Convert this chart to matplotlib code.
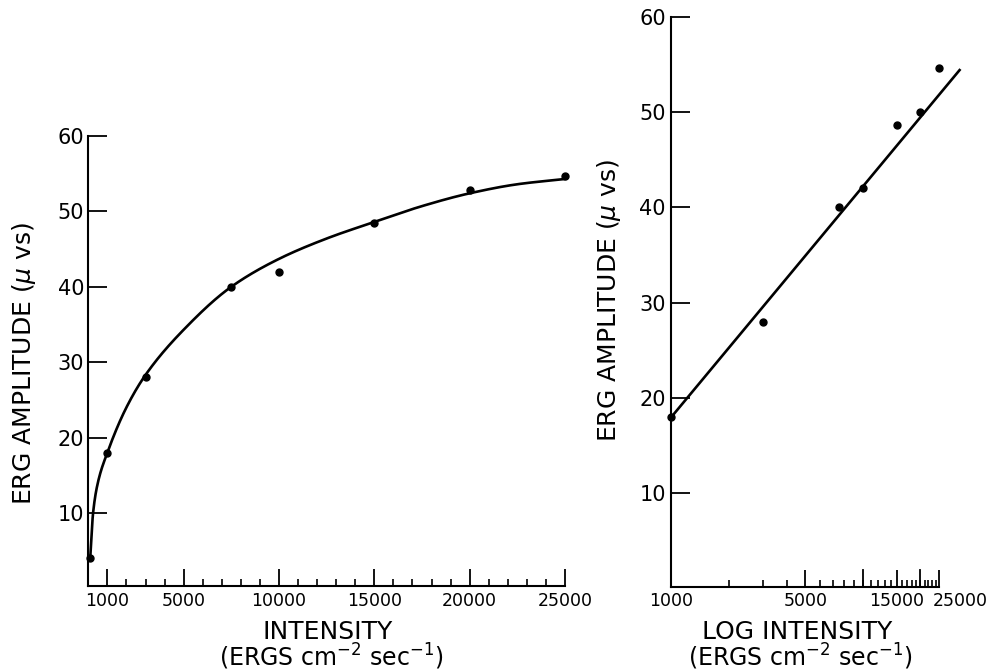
import numpy as np
import matplotlib
matplotlib.use("Agg")
import matplotlib.pyplot as plt
from matplotlib.transforms import ScaledTranslation

# ERG amplitude against stimulus intensity
intensity = [100, 1000, 3000, 7500, 10000, 15000, 20000, 25000]
amplitude = [4, 18, 28, 40, 42, 48.5, 52.8, 54.7]

# hand-drawn curve through the linear plot (knots)
curve_x = [100, 250, 500, 1000, 2000, 3000, 5000, 7500, 10000, 12500, 15000, 17500, 20000, 22500, 25000]
curve_y = [4, 10, 14, 18, 24, 28.3, 34.3, 40, 43.7, 46.4, 48.6, 50.7, 52.4, 53.6, 54.3]

# semi-log plot points and straight fit
log_x = [1000, 3000, 7500, 10000, 15000, 20000, 25000]
log_y = [18, 28, 40, 42, 48.6, 50, 54.6]
line_x = [1000, 32000]
line_y = [18, 54.4]

lin_ticks = [1000, 5000, 10000, 15000, 20000, 25000]
lin_labels = ["1000", "5000", "10000", "15000", "20000", "25000"]
log_major = [5000, 10000, 15000, 20000, 25000]
log_labels = {1000: "1000", 5000: "5000", 15000: "15000", 25000: "25000"}
y_ticks = [10, 20, 30, 40, 50, 60]

ylab = r"ERG AMPLITUDE ($\mu$ vs)"
units = r"(ERGS cm$^{-2}$ sec$^{-1}$)"


def pchip(xk, yk, xs):
    xk = np.asarray(xk, float)
    yk = np.asarray(yk, float)
    h = np.diff(xk)
    d = np.diff(yk) / h
    m = np.zeros_like(yk)
    m[0], m[-1] = d[0], d[-1]
    for i in range(1, len(xk) - 1):
        if d[i - 1] * d[i] > 0:
            w1 = 2 * h[i] + h[i - 1]
            w2 = h[i] + 2 * h[i - 1]
            m[i] = (w1 + w2) / (w1 / d[i - 1] + w2 / d[i])
    idx = np.clip(np.searchsorted(xk, xs) - 1, 0, len(h) - 1)
    t = (xs - xk[idx]) / h[idx]
    h00 = 2 * t**3 - 3 * t**2 + 1
    h10 = t**3 - 2 * t**2 + t
    h01 = -2 * t**3 + 3 * t**2
    h11 = t**3 - t**2
    return h00 * yk[idx] + h10 * h[idx] * m[idx] + h01 * yk[idx + 1] + h11 * h[idx] * m[idx + 1]


plt.rcParams["font.family"] = ["DejaVu Sans"]
plt.rcParams["mathtext.fontset"] = "dejavusans"

fig = plt.figure(figsize=(9.89, 6.71), dpi=100)
ax1 = fig.add_axes([0.0893, 0.1267, 0.4820, 0.6706])
ax2 = fig.add_axes([0.6788, 0.1256, 0.2707, 0.8495])

for ax in (ax1, ax2):
    for s in ("top", "right"):
        ax.spines[s].set_visible(False)
    for s in ("left", "bottom"):
        ax.spines[s].set_linewidth(1.5)
    ax.set_yticks(y_ticks)
    ax.tick_params(axis="y", direction="in", length=13.5, width=1.3, labelsize=15, pad=3)
    ax.tick_params(axis="x", which="major", direction="in", length=12, width=1.3, labelsize=12.5, pad=4)
    ax.tick_params(axis="x", which="minor", direction="in", length=5, width=1.2)

# left: linear intensity
xs = np.linspace(curve_x[0], curve_x[-1], 800)
ax1.plot(xs, pchip(curve_x, curve_y, xs), color="black", lw=1.9, clip_on=False)
ax1.plot(intensity, amplitude, "o", color="black", ms=5, clip_on=False)
ax1.set_xlim(0, 25000)
ax1.set_ylim(0.3, 60)
ax1.set_xticks(lin_ticks)
ax1.set_xticklabels(lin_labels)
ax1.set_xticks(np.arange(2000, 25000, 1000), minor=True)

# right: log intensity
ax2.set_xscale("log")
ax2.plot(line_x, line_y, color="black", lw=1.9, clip_on=False)
ax2.plot(log_x, log_y, "o", color="black", ms=5, clip_on=False)
ax2.set_xlim(1000, 25000)
ax2.set_ylim(0.2, 60)
ax2.set_xticks(list(log_labels.keys()))
ax2.set_xticklabels(list(log_labels.values()))
minor = [v for v in range(2000, 25000, 1000) if v not in log_major]
ax2.set_xticks(minor + [10000, 20000], minor=True)
ax2.xaxis.set_minor_formatter(matplotlib.ticker.NullFormatter())
# tall ticks at 10000 and 20000 without labels
for v in (10000, 20000):
    ax2.plot([v, v], [0.2, 2.0], color="black", lw=1.3, clip_on=False)
ax2.tick_params(axis="y", pad=4)

# last log label sits to the right of its tick
last = ax2.get_xticklabels()[-1]
last.set_ha("left")
last.set_transform(last.get_transform() + ScaledTranslation(-6 / 100, 0, fig.dpi_scale_trans))

fig.text(0.024, 0.458, ylab, rotation=90, ha="center", va="center", fontsize=18)
fig.text(0.616, 0.553, ylab, rotation=90, ha="center", va="center", fontsize=18)
fig.text(0.331, 0.058, "INTENSITY", ha="center", va="center", fontsize=18)
fig.text(0.335, 0.021, units, ha="center", va="center", fontsize=17)
fig.text(0.806, 0.058, "LOG INTENSITY", ha="center", va="center", fontsize=18)
fig.text(0.809, 0.021, units, ha="center", va="center", fontsize=17)

fig.savefig("out.png", dpi=100)
